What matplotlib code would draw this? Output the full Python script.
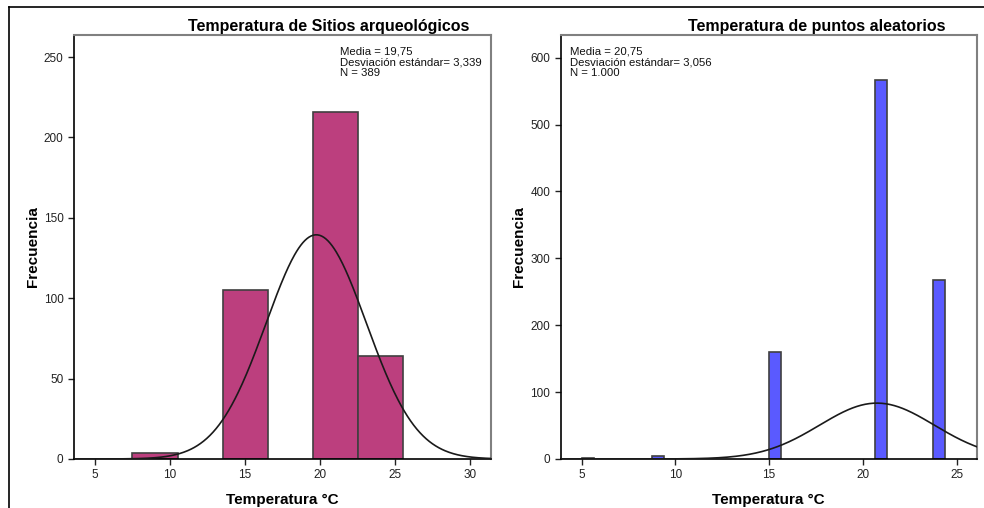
import numpy as np
import matplotlib
matplotlib.use('Agg')
import matplotlib.pyplot as plt
from matplotlib.lines import Line2D

plt.rcParams['font.family'] = ['Liberation Sans', 'DejaVu Sans']

# Sitios arqueológicos
sitios_edges = [7.5, 13.5, 19.5, 22.5]
sitios_counts = [4, 105, 216, 64]
sitios_width = 3.0
sitios_mean, sitios_sd, sitios_n = 19.75, 3.339, 389
sitios_stats = ['Media = 19,75', 'Desviación estándar= 3,339', 'N = 389']

# Puntos aleatorios
puntos_edges = [5.0, 8.73, 15.0, 20.63, 23.75]
puntos_counts = [2, 5, 160, 566, 267]
puntos_width = 0.64
puntos_mean, puntos_sd, puntos_n = 20.75, 3.056, 1000
puntos_stats = ['Media = 20,75', 'Desviación estándar= 3,056', 'N = 1.000']

SITIOS_COLOR = '#bc3f7e'
PUNTOS_COLOR = '#5a5aff'


def histo(ax, edges, counts, width, mean, sd, n, color, title, stats,
          xlim, ylim, xticks, yticks, stats_x, title_x):
    ax.bar(edges, counts, width=width, align='edge', color=color,
           edgecolor='#404040', linewidth=1.2, zorder=2)
    xs = np.linspace(xlim[0], xlim[1], 400)
    ys = n * width / (sd * np.sqrt(2 * np.pi)) * np.exp(-(xs - mean) ** 2 / (2 * sd ** 2))
    ax.plot(xs, ys, color='#1a1a1a', linewidth=1.2, zorder=3)
    ax.set_xlim(xlim)
    ax.set_ylim(ylim)
    ax.set_xticks(xticks)
    ax.set_yticks(yticks)
    ax.tick_params(labelsize=8.5, length=4, width=1, colors='#222222')
    ax.spines['top'].set_color('#808080')
    ax.spines['right'].set_color('#808080')
    ax.spines['top'].set_linewidth(1.5)
    ax.spines['right'].set_linewidth(1.5)
    ax.spines['left'].set_linewidth(1.2)
    ax.spines['bottom'].set_linewidth(1.2)
    ax.set_xlabel('Temperatura °C', fontsize=11, fontweight='bold', labelpad=8)
    ax.set_ylabel('Frecuencia', fontsize=11, fontweight='bold', labelpad=3)
    ax.text(title_x, 1.003, title, transform=ax.transAxes, ha='center', va='bottom',
            fontsize=11.5, fontweight='bold')
    ax.text(stats_x, 0.972, '\n'.join(stats), transform=ax.transAxes, ha='left', va='top',
            fontsize=8.2, linespacing=1.05, color='#111111')


fig = plt.figure(figsize=(9.84, 5.08), dpi=100)
ax1 = fig.add_axes([0.0752, 0.0965, 0.4238, 0.8346])
ax2 = fig.add_axes([0.5698, 0.0965, 0.4228, 0.8346])

histo(ax1, sitios_edges, sitios_counts, sitios_width, sitios_mean, sitios_sd, sitios_n,
      SITIOS_COLOR, 'Temperatura de Sitios arqueológicos', sitios_stats,
      (3.6, 31.4), (0, 263.7), [5, 10, 15, 20, 25, 30], [0, 50, 100, 150, 200, 250],
      0.637, 0.611)
histo(ax2, puntos_edges, puntos_counts, puntos_width, puntos_mean, puntos_sd, puntos_n,
      PUNTOS_COLOR, 'Temperatura de puntos aleatorios', puntos_stats,
      (3.88, 26.07), (0, 634), [5, 10, 15, 20, 25], [0, 100, 200, 300, 400, 500, 600],
      0.022, 0.616)

# outer frame lines
fig.add_artist(Line2D([0.0091, 1.0], [0.986, 0.986], color='black', linewidth=1.2,
                      transform=fig.transFigure))
fig.add_artist(Line2D([0.0091, 0.0091], [0.0, 0.986], color='black', linewidth=1.2,
                      transform=fig.transFigure))

fig.savefig('out.png', dpi=100)
